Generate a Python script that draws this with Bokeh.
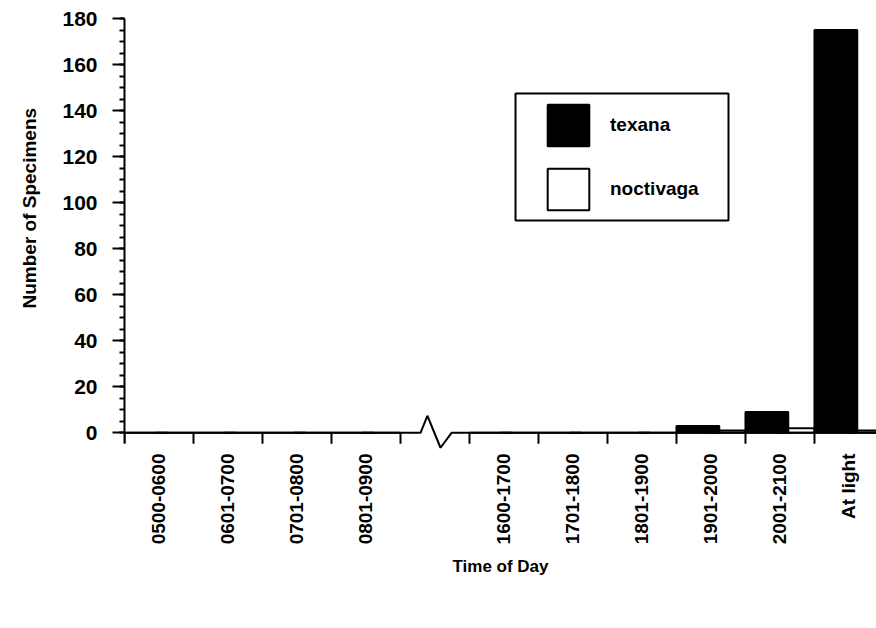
import math
from bokeh.plotting import figure
from bokeh.models import Range1d, FixedTicker, Legend, LegendItem, BoxAnnotation, Title
from bokeh.embed import file_html
from bokeh.resources import INLINE

# ---- data ----
categories = ["0500-0600", "0601-0700", "0701-0800", "0801-0900",
              "1600-1700", "1701-1800", "1801-1900", "1901-2000",
              "2001-2100", "At light"]
texana = [0, 0, 0, 0, 0, 0, 0, 3, 9, 175]
noctivaga = [0, 0, 0, 0, 0, 0, 0, 1, 2, 1]
y_ticks = [0, 20, 40, 60, 80, 100, 120, 140, 160, 180]
y_minor = list(range(0, 181, 5))

# slot index for each category (slot 4 is the axis break)
BREAK_SLOT = 4
slots = [i if i < BREAK_SLOT else i + 1 for i in range(len(categories))]
n_slots = len(categories) + 1

FONT = "Liberation Sans"
X_END = 10.899

p = figure(width=876, height=628, output_backend="svg", toolbar_location=None,
           x_range=Range1d(0, X_END), y_range=Range1d(-9, 180),
           min_border_left=124, min_border_right=0, min_border_top=18,
           min_border_bottom=175)
p.outline_line_color = None
p.xgrid.grid_line_color = None
p.ygrid.grid_line_color = None
p.background_fill_color = "white"
p.border_fill_color = "white"

# bars: noctivaga (white, behind), texana (black, front)
nx = [s + 0.725 for s in slots]
tx = [s + 0.31 for s in slots]
r_noct = p.vbar(x=nx, top=noctivaga, bottom=0, width=0.55,
                fill_color="white", line_color="black", line_width=2)
r_tex = p.vbar(x=tx, top=texana, bottom=0, width=0.62,
               fill_color="black", line_color="black", line_width=2)

# x axis line with break symbol
bx = [0, 4.29, 4.39, 4.58, 4.74, X_END]
by = [0, 0, 7.4, -6.5, 0, 0]
p.line(bx, by, line_color="black", line_width=2)
# x ticks at slot boundaries
tick_x = list(range(0, n_slots))
p.segment(x0=tick_x, y0=[0] * len(tick_x), x1=tick_x, y1=[-4.8] * len(tick_x),
          line_color="black", line_width=2)

# x axis (labels only)
xa = p.xaxis[0]
xa.ticker = FixedTicker(ticks=[s + 0.5 for s in slots], minor_ticks=[])
xa.major_label_overrides = {s + 0.5: c for s, c in zip(slots, categories)}
xa.major_label_orientation = math.pi / 2
xa.axis_line_color = None
xa.major_tick_line_color = None
xa.minor_tick_line_color = None
xa.major_tick_out = 0
xa.major_tick_in = 0
xa.minor_tick_out = 0
xa.major_label_standoff = 0
xa.major_label_text_font = FONT
xa.major_label_text_font_style = "bold"
xa.major_label_text_font_size = "19px"
xa.major_label_text_color = "black"
xa.axis_label = "Time of Day"
xa.axis_label_text_font = FONT
xa.axis_label_text_font_style = "bold"
xa.axis_label_text_font_size = "17px"
xa.axis_label_text_color = "black"
xa.axis_label_standoff = 10

# y axis
ya = p.yaxis[0]
ya.ticker = FixedTicker(ticks=y_ticks, minor_ticks=y_minor)
ya.bounds = (-4.8, 180)
ya.axis_line_width = 2
ya.major_tick_line_width = 2
ya.minor_tick_line_width = 2
ya.major_tick_out = 12
ya.major_tick_in = 0
ya.minor_tick_out = 5
ya.minor_tick_in = 0
ya.major_label_standoff = 15
ya.major_label_text_font = FONT
ya.major_label_text_font_style = "bold"
ya.major_label_text_font_size = "21px"
ya.major_label_text_color = "black"

# y axis title as a side title so it can sit off-centre like the original
p.add_layout(Title(text="Number of Specimens", align="left", offset=145,
                   standoff=36, vertical_align="top",
                   text_font=FONT, text_font_style="bold",
                   text_font_size="19px", text_color="black"), "left")

# legend
legend = Legend(items=[LegendItem(label="texana", renderers=[r_tex]),
                       LegendItem(label="noctivaga", renderers=[r_noct])],
                location=(418, 238), orientation="vertical",
                glyph_width=52, glyph_height=52, spacing=12, padding=0,
                margin=0, label_standoff=16,
                label_text_font=FONT, label_text_font_style="bold",
                label_text_font_size="19px", label_text_color="black",
                border_line_color=None, background_fill_alpha=0)
p.add_layout(legend)
p.add_layout(BoxAnnotation(left=5.667, right=8.754, bottom=92.2, top=147.4,
                           fill_alpha=0, line_color="black", line_alpha=1,
                           line_width=2))

open("out.html", "w").write(file_html(p, INLINE))
